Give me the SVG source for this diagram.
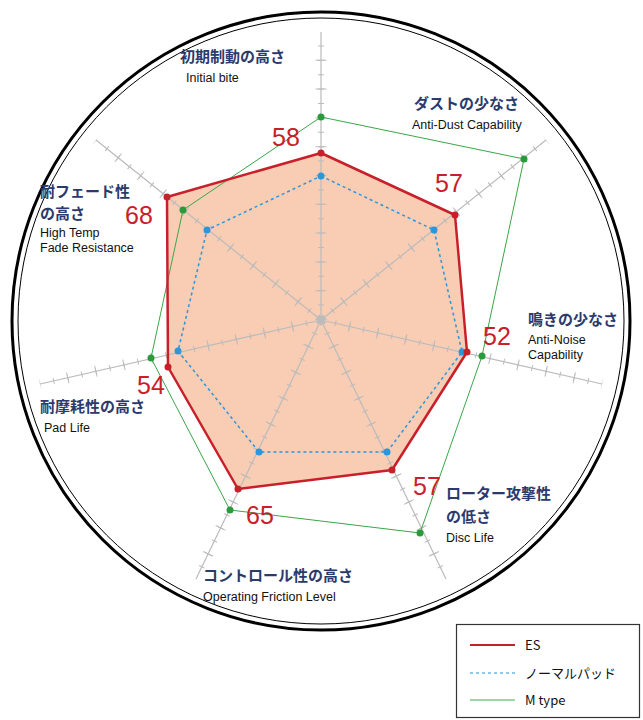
<svg xmlns="http://www.w3.org/2000/svg" width="643" height="720" viewBox="0 0 643 720">
<style>
.ax{stroke:#bbb;stroke-width:1.2}
.tk{stroke:#bbb;stroke-width:6;stroke-dasharray:1 13.4;fill:none}
.tj{stroke:#bbb;stroke-width:11;stroke-dasharray:1 27.8;fill:none}
.jp{font-family:"Noto Sans CJK JP",sans-serif;font-size:15px;fill:#2b3a6b;font-weight:bold}
.en{font-family:"Liberation Sans",Arial,sans-serif;font-size:12.5px;fill:#111}
.num{font-family:"Liberation Sans",Arial,sans-serif;font-size:25px;fill:#c8202a}
.lg{font-family:"Noto Sans CJK JP",sans-serif;font-size:13px;fill:#111}
</style>
<rect width="643" height="720" fill="#fff"/>
<circle cx="321" cy="321" r="309" fill="none" stroke="#000" stroke-width="3"/>
<circle cx="321" cy="321" r="303" fill="none" stroke="#000" stroke-width="1"/>
<polygon id="es-fill" points="321,153 455,215 467,352 392,470 238,489 168,367 167,197" fill="#f8cdb4"/>
<g id="axes">
<g id="axis-lines">
<line class="ax" x1="321" y1="320" x2="321" y2="32"/>
<line class="ax" x1="321" y1="320" x2="546" y2="140"/>
<line class="ax" x1="321" y1="320" x2="602" y2="384"/>
<line class="ax" x1="321" y1="320" x2="446" y2="579"/>
<line class="ax" x1="321" y1="320" x2="196" y2="579"/>
<line class="ax" x1="321" y1="320" x2="40" y2="384"/>
<line class="ax" x1="321" y1="320" x2="96" y2="140"/>
</g>
<g id="ticks">
<path class="tk" d="M321 320L321 32M321 320L546 140M321 320L602 384M321 320L446 579M321 320L196 579M321 320L40 384M321 320L96 140"/>
<path class="tj" d="M321 320L321 32M321 320L546 140M321 320L602 384M321 320L446 579M321 320L196 579M321 320L40 384M321 320L96 140"/>
</g>
<circle cx="321" cy="320" r="4" fill="#bbb"/>
</g>
<g id="series-M">
<polygon points="321,117 524,159 482,356 420,533 230,510 151,358 183,210" fill="none" stroke="#3aa64a" stroke-width="1"/>
<g fill="#2a9a3a"><circle cx="321" cy="117" r="3.5"/><circle cx="524" cy="159" r="3.5"/><circle cx="482" cy="356" r="3.5"/><circle cx="420" cy="533" r="3.5"/><circle cx="230" cy="510" r="3.5"/><circle cx="151" cy="358" r="3.5"/><circle cx="183" cy="210" r="3.5"/></g>
</g>
<g id="series-normal">
<polygon points="321,176 434,230 462,352 387,452 259,452 178,351 207,230" fill="none" stroke="#2a96dc" stroke-width="1.5" stroke-dasharray="3 3"/>
<g fill="#2a96dc"><circle cx="321" cy="176" r="3.5"/><circle cx="434" cy="230" r="3.5"/><circle cx="462" cy="352" r="3.5"/><circle cx="387" cy="452" r="3.5"/><circle cx="259" cy="452" r="3.5"/><circle cx="178" cy="351" r="3.5"/><circle cx="207" cy="230" r="3.5"/></g>
</g>
<g id="series-ES">
<polygon points="321,153 455,215 467,352 392,470 238,489 168,367 167,197" fill="none" stroke="#c8202a" stroke-width="2.5" stroke-linejoin="round"/>
<g fill="#c8202a"><circle cx="321" cy="153" r="3.5"/><circle cx="455" cy="215" r="3.5"/><circle cx="467" cy="352" r="3.5"/><circle cx="392" cy="470" r="3.5"/><circle cx="238" cy="489" r="3.5"/><circle cx="168" cy="367" r="3.5"/><circle cx="167" cy="197" r="3.5"/></g>
</g>
<g id="labels">
<text class="jp" x="180" y="62">初期制動の高さ</text><text class="en" x="186" y="82">Initial bite</text>
<text class="jp" x="414" y="109">ダストの少なさ</text><text class="en" x="412" y="129">Anti-Dust Capability</text>
<text class="jp" x="528" y="325">鳴きの少なさ</text><text class="en" x="528" y="344">Anti-Noise</text><text class="en" x="528" y="359">Capability</text>
<text class="jp" x="446" y="499">ローター攻撃性</text><text class="jp" x="446" y="522">の低さ</text><text class="en" x="446" y="542">Disc Life</text>
<text class="jp" x="203" y="581">コントロール性の高さ</text><text class="en" x="203" y="601">Operating Friction Level</text>
<text class="jp" x="40" y="412">耐摩耗性の高さ</text><text class="en" x="44" y="432">Pad Life</text>
<text class="jp" x="40" y="197">耐フェード性</text><text class="jp" x="40" y="219">の高さ</text><text class="en" x="40" y="237">High Temp</text><text class="en" x="40" y="252">Fade Resistance</text>
</g>
<g id="values">
<text class="num" x="272" y="146">58</text>
<text class="num" x="435" y="192">57</text>
<text class="num" x="483" y="345">52</text>
<text class="num" x="413" y="495">57</text>
<text class="num" x="246" y="524">65</text>
<text class="num" x="137" y="394">54</text>
<text class="num" x="125" y="224">68</text>
</g>
<g id="legend">
<rect x="456.5" y="624.5" width="183" height="93" fill="#fff" stroke="#333" stroke-width="1.2"/>
<line x1="470" y1="645" x2="515" y2="645" stroke="#c8202a" stroke-width="2"/>
<line x1="470" y1="673" x2="515" y2="673" stroke="#8ec8ea" stroke-width="2" stroke-dasharray="3 3"/>
<line x1="470" y1="700" x2="515" y2="700" stroke="#7cc88a" stroke-width="1.5"/>
<text class="lg" x="525" y="650">ES</text>
<text class="lg" x="525" y="678">ノーマルパッド</text>
<text class="lg" x="525" y="705">M type</text>
</g>
</svg>
